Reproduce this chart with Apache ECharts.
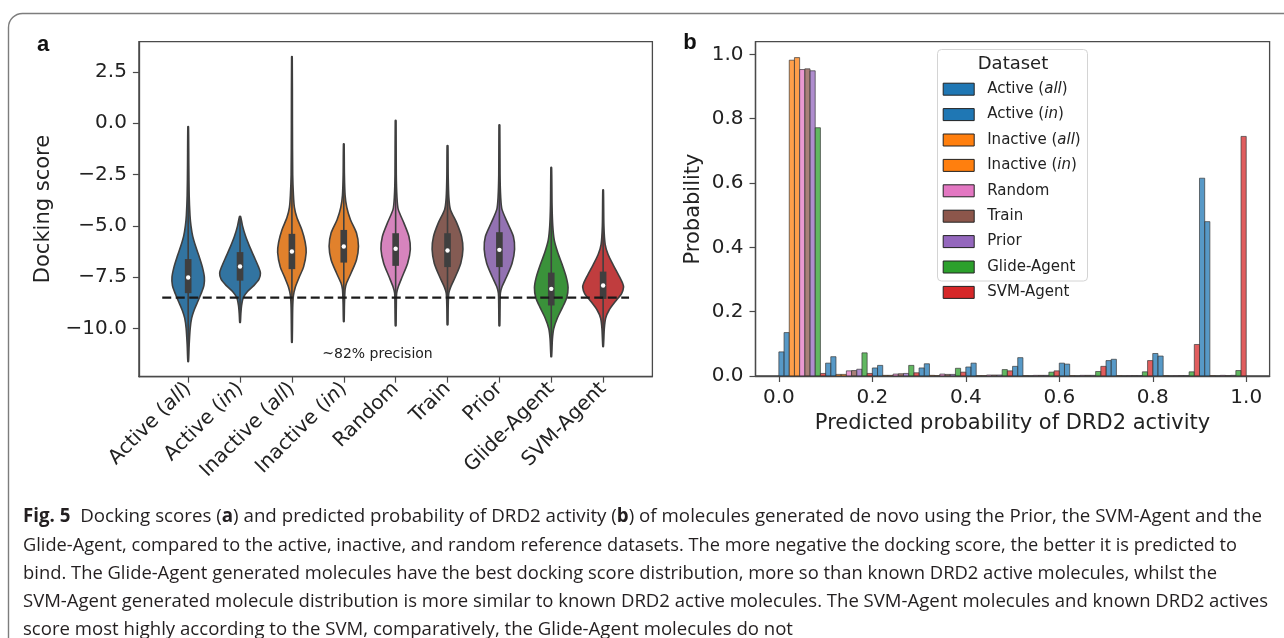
<!DOCTYPE html>
<html>
<head>
<meta charset="utf-8">
<script src="https://cdn.jsdelivr.net/npm/echarts@6/dist/echarts.min.js"></script>
<style>
html,body{margin:0;padding:0;background:#fff;}
#chart{width:1284px;height:638px;}
</style>
</head>
<body>
<div id="chart"></div>
<script>
// ---------------- Panel a: violin data (docking scores) ----------------
const violinNames = ['Active (all)', 'Active (in)', 'Inactive (all)', 'Inactive (in)', 'Random', 'Train', 'Prior', 'Glide-Agent', 'SVM-Agent'];
const violinMin    = [-11.61, -9.71, -10.67, -9.66, -9.87, -9.82, -9.87, -11.37, -10.88];
const violinMax    = [-0.17, -4.55, 3.24, -1.01, 0.13, -1.09, -0.08, -2.16, -3.25];
const violinQ1     = [-8.28, -7.67, -7.11, -6.79, -6.95, -7.01, -7.01, -8.88, -8.56];
const violinMedian = [-7.52, -6.98, -6.25, -6.01, -6.12, -6.20, -6.17, -8.07, -7.91];
const violinQ3     = [-6.62, -6.28, -5.39, -5.20, -5.36, -5.36, -5.31, -7.28, -7.23];
// density profiles: [score, half width in category units]
const profileActiveAll = [[-0.17,0.006],[-2.0,0.012],[-3.5,0.019],[-4.5,0.035],[-5.0,0.054],[-5.5,0.087],[-6.0,0.144],[-6.5,0.212],[-7.0,0.273],[-7.5,0.312],[-7.9,0.304],[-8.3,0.25],[-8.7,0.183],[-9.1,0.116],[-9.5,0.067],[-10.0,0.039],[-10.8,0.019],[-11.61,0.006]];
const profileActiveIn = [[-4.55,0.01],[-5.0,0.048],[-5.5,0.106],[-6.0,0.183],[-6.5,0.27],[-7.0,0.356],[-7.3,0.393],[-7.6,0.366],[-7.9,0.27],[-8.2,0.144],[-8.5,0.062],[-8.9,0.029],[-9.3,0.015],[-9.71,0.006]];
const profileInactiveAll = [[3.24,0.006],[0,0.01],[-2.5,0.015],[-3.5,0.029],[-4.1,0.048],[-4.6,0.096],[-5.2,0.193],[-5.8,0.256],[-6.3,0.275],[-7.0,0.225],[-7.5,0.141],[-8.0,0.064],[-8.4,0.029],[-9.0,0.015],[-10.67,0.006]];
const profileInactiveIn = [[-1.01,0.006],[-2.5,0.012],[-3.5,0.025],[-4.1,0.058],[-4.7,0.129],[-5.35,0.245],[-6.0,0.283],[-6.65,0.245],[-7.3,0.141],[-7.8,0.052],[-8.1,0.025],[-8.8,0.013],[-9.66,0.006]];
const profileRandom = [[0.13,0.006],[-2.5,0.012],[-3.6,0.025],[-4.2,0.05],[-4.87,0.16],[-5.52,0.256],[-6.14,0.283],[-6.82,0.231],[-7.47,0.129],[-7.96,0.052],[-8.28,0.019],[-9.0,0.012],[-9.87,0.006]];
const profileTrain = [[-1.09,0.006],[-2.5,0.012],[-3.6,0.025],[-4.2,0.055],[-4.87,0.179],[-5.52,0.27],[-6.14,0.297],[-6.82,0.256],[-7.47,0.154],[-7.96,0.064],[-8.28,0.025],[-9.0,0.012],[-9.82,0.006]];
const profilePrior = [[-0.08,0.006],[-2.5,0.012],[-3.6,0.025],[-4.2,0.05],[-4.87,0.16],[-5.52,0.27],[-6.14,0.293],[-6.82,0.245],[-7.47,0.141],[-7.96,0.052],[-8.28,0.019],[-9.0,0.012],[-9.87,0.006]];
const profileGlide = [[-2.16,0.006],[-4,0.015],[-5,0.029],[-5.7,0.058],[-6.3,0.125],[-6.9,0.212],[-7.5,0.289],[-8.0,0.324],[-8.5,0.298],[-9.0,0.212],[-9.5,0.116],[-10.0,0.048],[-10.5,0.023],[-11.37,0.006]];
const profileSVM = [[-3.25,0.006],[-5,0.015],[-5.9,0.039],[-6.4,0.096],[-6.9,0.193],[-7.4,0.298],[-7.8,0.376],[-8.0,0.393],[-8.3,0.356],[-8.7,0.231],[-9.1,0.116],[-9.5,0.048],[-10,0.023],[-10.88,0.006]];
const violinProfiles = [profileActiveAll, profileActiveIn, profileInactiveAll, profileInactiveIn, profileRandom, profileTrain, profilePrior, profileGlide, profileSVM];
const precisionThreshold = -8.5;
const dockingTicks = [-10, -7.5, -5, -2.5, 0, 2.5];

// ---------------- Panel b: histogram data (probability per bin) ----------------
const binStarts = [0.0, 0.1, 0.2, 0.3, 0.4, 0.5, 0.6, 0.7, 0.8, 0.9];
const probActiveAll   = [0.075, 0.040, 0.025, 0.025, 0.028, 0.030, 0.040, 0.048, 0.070, 0.615];
const probActiveIn    = [0.135, 0.060, 0.033, 0.038, 0.040, 0.057, 0.037, 0.052, 0.062, 0.480];
const probInactiveAll = [0.982, 0.005, 0.002, 0.002, 0.001, 0.001, 0.001, 0.001, 0.001, 0.001];
const probInactiveIn  = [0.990, 0.005, 0.002, 0.001, 0.001, 0.000, 0.000, 0.000, 0.000, 0.000];
const probRandom      = [0.953, 0.016, 0.006, 0.006, 0.003, 0.002, 0.002, 0.001, 0.001, 0.002];
const probTrain       = [0.955, 0.017, 0.007, 0.005, 0.003, 0.002, 0.002, 0.001, 0.001, 0.001];
const probPrior       = [0.949, 0.021, 0.008, 0.005, 0.003, 0.002, 0.002, 0.001, 0.001, 0.002];
const probGlide       = [0.772, 0.072, 0.033, 0.024, 0.020, 0.012, 0.014, 0.013, 0.013, 0.017];
const probSVM         = [0.008, 0.008, 0.010, 0.012, 0.016, 0.016, 0.030, 0.048, 0.098, 0.745];
const histValues = [probActiveAll, probActiveIn, probInactiveAll, probInactiveIn, probRandom, probTrain, probPrior, probGlide, probSVM];
const probTicks = [0, 0.2, 0.4, 0.6, 0.8, 1.0];

// colours
const fullColors = ['#1f77b4','#1f77b4','#ff7f0e','#ff7f0e','#e377c2','#8c564b','#9467bd','#2ca02c','#d62728'];
const violinColors = ['#3274a1','#3274a1','#e1812c','#e1812c','#d684bd','#845b53','#9372b2','#3a923a','#c03d3e'];

const captionLines = [
  '{b|Fig. 5}  Docking scores ({b|a}) and predicted probability of DRD2 activity ({b|b}) of molecules generated de novo using the Prior, the SVM-Agent and the',
  'Glide-Agent, compared to the active, inactive, and random reference datasets. The more negative the docking score, the better it is predicted to',
  'bind. The Glide-Agent generated molecules have the best docking score distribution, more so than known DRD2 active molecules, whilst the',
  'SVM-Agent generated molecule distribution is more similar to known DRD2 active molecules. The SVM-Agent molecules and known DRD2 actives',
  'score most highly according to the SVM, comparatively, the Glide-Agent molecules do not'
];

// ---------------- helpers ----------------
const FONT = "'DejaVu Sans', sans-serif";
const CAP_FONT_FAMILY = "'Open Sans', 'Noto Sans', 'DejaVu Sans Condensed', sans-serif";
const CAP_SIZE = 19;
function richItalic(name) { return name.replace(/\((all|in)\)/, '({i|$1})'); }
function fmtMinus(v, d) { return (v < 0 ? '\u2212' : '') + Math.abs(v).toFixed(d); }

const measureCtx = document.createElement('canvas').getContext('2d');
function measureRich(line) {
  let w = 0;
  const re = /\{b\|([^}]*)\}|([^{]+)/g; let m;
  while ((m = re.exec(line))) {
    if (m[1] !== undefined) { measureCtx.font = 'bold ' + CAP_SIZE + 'px ' + CAP_FONT_FAMILY; w += measureCtx.measureText(m[1]).width; }
    else { measureCtx.font = CAP_SIZE + 'px ' + CAP_FONT_FAMILY; w += measureCtx.measureText(m[2]).width; }
  }
  return w;
}
const capLeft = 23;
const capRight = [1262, 1237, 1217, 1268, 793];
const capY = [517, 545.5, 573.8, 602, 630];

const chart = echarts.init(document.getElementById('chart'), null, {renderer: 'canvas'});

// ---------------- series ----------------
const violinSeries = {
  type: 'custom', xAxisIndex: 0, yAxisIndex: 0, z: 2, silent: true,
  data: violinNames.map((n, i) => [i, violinMedian[i]]),
  encode: {x: 0, y: 1},
  renderItem: function (params, api) {
    const i = params.dataIndex;
    const prof = violinProfiles[i];
    const pts = [];
    for (let k = 0; k < prof.length; k++) pts.push(api.coord([i + prof[k][1], prof[k][0]]));
    for (let k = prof.length - 1; k >= 0; k--) pts.push(api.coord([i - prof[k][1], prof[k][0]]));
    const top = api.coord([i, violinMax[i]]);
    const bot = api.coord([i, violinMin[i]]);
    const q3 = api.coord([i, violinQ3[i]]);
    const q1 = api.coord([i, violinQ1[i]]);
    const med = api.coord([i, violinMedian[i]]);
    const bh = api.size([0.064, 0])[0];
    return {
      type: 'group',
      children: [
        {type: 'polygon', shape: {points: pts, smooth: 0.25}, style: {fill: violinColors[i], stroke: '#3f3f3f', lineWidth: 1.6}},
        {type: 'line', shape: {x1: top[0], y1: top[1], x2: bot[0], y2: bot[1]}, style: {stroke: '#3f3f3f', lineWidth: 1.6}},
        {type: 'rect', shape: {x: q3[0] - bh, y: q3[1], width: 2 * bh, height: q1[1] - q3[1]}, style: {fill: '#3f3f3f'}},
        {type: 'circle', shape: {cx: med[0], cy: med[1], r: 2.2}, style: {fill: '#ffffff'}}
      ]
    };
  }
};

const thresholdSeries = {
  type: 'line', xAxisIndex: 0, yAxisIndex: 0, z: 5, silent: true, symbol: 'none',
  data: [[-0.5, precisionThreshold], [8.5, precisionThreshold]],
  lineStyle: {color: '#1a1a1a', width: 2.2, type: [9, 4.5]}
};

const binWidth = 0.1;
const nHue = violinNames.length;
const histSeries = violinNames.map((name, k) => ({
  name: name, type: 'custom', xAxisIndex: 1, yAxisIndex: 1, z: 2, silent: true,
  itemStyle: {color: fullColors[k], borderColor: '#222', borderWidth: 1},
  data: binStarts.map((b, j) => [b, histValues[k][j]]),
  encode: {x: 0, y: 1},
  renderItem: function (params, api) {
    const x0 = api.value(0) + k * binWidth / nHue;
    const x1 = x0 + binWidth / nHue;
    const p0 = api.coord([x0, api.value(1)]);
    const p1 = api.coord([x1, 0]);
    return {
      type: 'rect',
      shape: {x: p0[0], y: p0[1], width: p1[0] - p0[0], height: p1[1] - p0[1]},
      style: {fill: echarts.color.modifyAlpha(fullColors[k], 0.75), stroke: '#3a3a3a', lineWidth: 0.7}
    };
  }
}));

// ---------------- graphic (texts, frames) ----------------
const graphics = [
  {type: 'rect', z: 0, silent: true, shape: {x: 8.5, y: 13.5, width: 1320, height: 700, r: 14}, style: {fill: 'none', stroke: '#7d7d7d', lineWidth: 1.4}},
  {type: 'text', silent: true, x: 43, y: 45, style: {text: 'a', font: "bold 22px 'Liberation Sans', Arial, sans-serif", fill: '#111', align: 'center', verticalAlign: 'middle'}},
  {type: 'text', silent: true, x: 690, y: 43, style: {text: 'b', font: "bold 22px 'Liberation Sans', Arial, sans-serif", fill: '#111', align: 'center', verticalAlign: 'middle'}},
  {type: 'text', silent: true, x: 44, y: 209, rotation: Math.PI / 2, style: {text: 'Docking score', font: '21px ' + FONT, fill: '#222', align: 'center', verticalAlign: 'middle'}},
  {type: 'text', silent: true, x: 377.5, y: 354.5, style: {text: '~82% precision', font: '14px ' + FONT, fill: '#222', align: 'center', verticalAlign: 'middle'}},
  {type: 'text', silent: true, x: 694, y: 209, rotation: Math.PI / 2, style: {text: 'Probability', font: '21px ' + FONT, fill: '#222', align: 'center', verticalAlign: 'middle'}},
  {type: 'text', silent: true, x: 1012.5, y: 423.5, style: {text: 'Predicted probability of DRD2 activity', font: '21px ' + FONT, fill: '#222', align: 'center', verticalAlign: 'middle'}},
  {type: 'rect', z: 3, silent: true, shape: {x: 937.5, y: 49.5, width: 150, height: 231.5, r: 4}, style: {fill: 'rgba(255,255,255,0.85)', stroke: '#d4d4d4', lineWidth: 1}},
  {type: 'text', z: 4, silent: true, x: 1013, y: 64.5, style: {text: 'Dataset', font: '18px ' + FONT, fill: '#222', align: 'center', verticalAlign: 'middle'}}
];
captionLines.forEach((line, idx) => {
  const w = measureRich(line);
  const sx = (capRight[idx] - capLeft) / w;
  graphics.push({
    type: 'text', silent: true, x: capLeft, y: capY[idx], scaleX: sx, scaleY: 1,
    style: {
      text: line, fontFamily: CAP_FONT_FAMILY, fontSize: CAP_SIZE, fill: '#231f20', align: 'left', verticalAlign: 'middle',
      rich: {b: {fontFamily: CAP_FONT_FAMILY, fontSize: CAP_SIZE, fontWeight: 'bold', fill: '#231f20'}}
    }
  });
});

const axisLineStyle = {color: '#4a4a4a', width: 1.3};
const tickStyle = {color: '#4a4a4a', width: 1.2};

const option = {
  backgroundColor: '#ffffff',
  animation: false,
  grid: [
    {left: 138.9, top: 41.7, width: 513.5, height: 335, show: true, borderColor: '#4a4a4a', borderWidth: 1.3, backgroundColor: 'transparent', outerBoundsMode: 'none', containLabel: false},
    {left: 755.5, top: 41.7, width: 514.1, height: 334.3, show: true, borderColor: '#4a4a4a', borderWidth: 1.3, backgroundColor: 'transparent', outerBoundsMode: 'none', containLabel: false}
  ],
  xAxis: [
    {
      type: 'value', gridIndex: 0, min: -0.95, max: 8.95,
      splitLine: {show: false}, axisLine: {show: true, lineStyle: axisLineStyle, onZero: false},
      axisTick: {show: true, length: 6, lineStyle: tickStyle, customValues: violinNames.map((n, i) => i)},
      axisLabel: {
        show: true, rotate: 45, margin: 9, fontSize: 20, fontFamily: FONT, color: '#222',
        customValues: violinNames.map((n, i) => i),
        formatter: v => richItalic(violinNames[Math.round(v)] || ''),
        rich: {i: {fontStyle: 'italic', fontSize: 20, fontFamily: FONT, color: '#222'}}
      }
    },
    {
      type: 'value', gridIndex: 1, min: -0.05, max: 1.05,
      splitLine: {show: false}, axisLine: {show: true, lineStyle: axisLineStyle, onZero: false},
      axisTick: {show: true, length: 6, lineStyle: tickStyle, customValues: probTicks},
      axisLabel: {show: true, margin: 12, fontSize: 20, fontFamily: FONT, color: '#222', customValues: probTicks, formatter: v => v.toFixed(1)}
    }
  ],
  yAxis: [
    {
      type: 'value', gridIndex: 0, min: -12.35, max: 3.97,
      splitLine: {show: false}, axisLine: {show: true, lineStyle: axisLineStyle, onZero: false},
      axisTick: {show: true, length: 6, lineStyle: tickStyle, customValues: dockingTicks},
      axisLabel: {show: true, margin: 12, fontSize: 20, fontFamily: FONT, color: '#222', customValues: dockingTicks, formatter: v => fmtMinus(v, 1)}
    },
    {
      type: 'value', gridIndex: 1, min: 0, max: 1.0395,
      splitLine: {show: false}, axisLine: {show: true, lineStyle: axisLineStyle, onZero: false},
      axisTick: {show: true, length: 6, lineStyle: tickStyle, customValues: probTicks},
      axisLabel: {show: true, margin: 12, fontSize: 20, fontFamily: FONT, color: '#222', customValues: probTicks, formatter: v => v.toFixed(1)}
    }
  ],
  legend: {
    orient: 'vertical', left: 942.7, top: 81.7, z: 5,
    itemWidth: 31, itemHeight: 12, itemGap: 10.4, icon: 'rect', selectedMode: false,
    padding: 0,
    textStyle: {fontFamily: FONT, fontSize: 15, color: '#222', lineHeight: 12, padding: [0, 0, 0, 8],
      rich: {i: {fontStyle: 'italic', fontFamily: FONT, fontSize: 15, color: '#222', lineHeight: 12}}},
    formatter: name => richItalic(name),
    data: violinNames.map((n, k) => ({name: n, icon: 'rect', itemStyle: {color: fullColors[k], borderColor: '#222', borderWidth: 1}}))
  },
  graphic: graphics,
  series: [violinSeries, thresholdSeries].concat(histSeries)
};
chart.setOption(option);
</script>
</body>
</html>
